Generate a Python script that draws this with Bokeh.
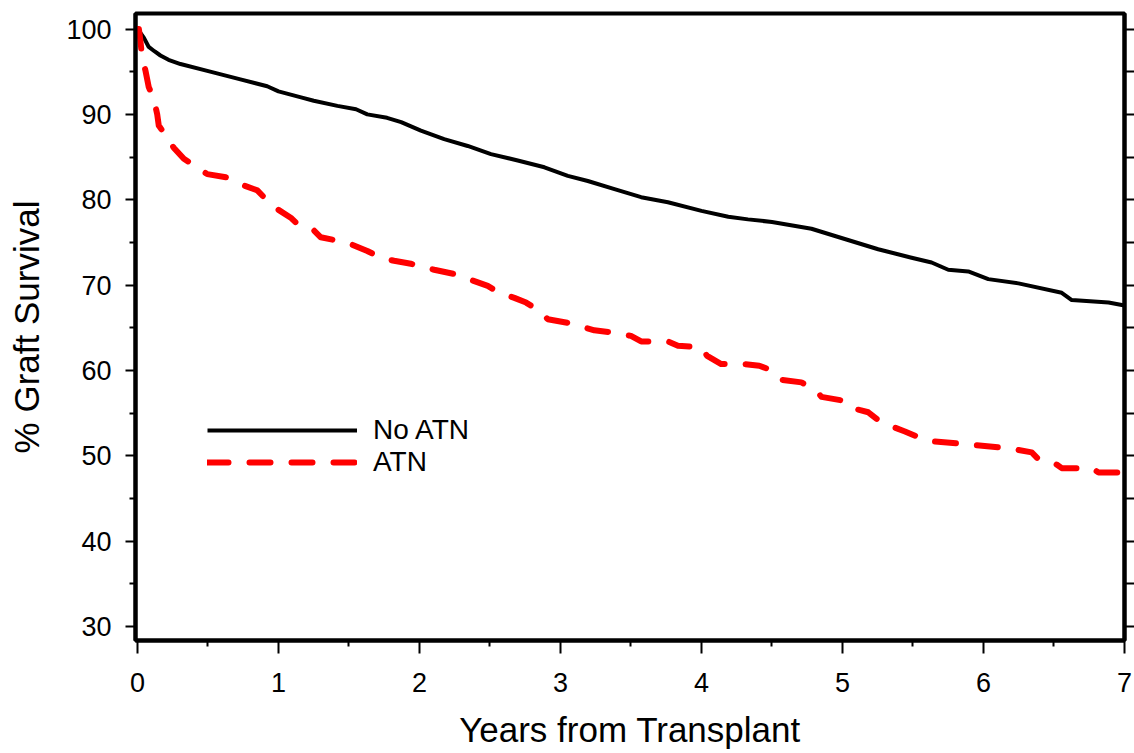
from bokeh.plotting import figure
from bokeh.models import (Range1d, LinearAxis, FixedTicker, Legend, LegendItem)
from bokeh.embed import file_html
from bokeh.resources import INLINE

# ---- data ----
years_no_atn = [0, 0.01, 0.045, 0.08, 0.12, 0.163, 0.22, 0.305, 0.495, 0.73, 0.92, 1.0,
                1.16, 1.25, 1.418, 1.55, 1.63, 1.77, 1.87, 2.01, 2.175, 2.342, 2.507,
                2.697, 2.886, 3.052, 3.194, 3.383, 3.572, 3.762, 4.0, 4.19, 4.33, 4.5,
                4.78, 5.016, 5.253, 5.49, 5.632, 5.75, 5.892, 6.034, 6.248, 6.555,
                6.626, 6.887, 7.0]
surv_no_atn = [100, 99.8, 99.0, 97.9, 97.4, 96.9, 96.4, 95.9, 95.1, 94.1, 93.3, 92.7,
               92.0, 91.6, 91.0, 90.6, 90.0, 89.6, 89.1, 88.1, 87.1, 86.3, 85.35,
               84.6, 83.8, 82.8, 82.2, 81.25, 80.3, 79.7, 78.7, 78.0, 77.7, 77.4,
               76.6, 75.4, 74.2, 73.2, 72.65, 71.8, 71.6, 70.7, 70.2, 69.1,
               68.25, 67.95, 67.6]

years_atn = [0, 0.01, 0.021, 0.033, 0.057, 0.08, 0.116, 0.14, 0.151, 0.21, 0.257, 0.329,
             0.424, 0.495, 0.637, 0.731, 0.85, 0.92, 0.992, 1.087, 1.134, 1.252, 1.3,
             1.418, 1.513, 1.63, 1.726, 1.82, 1.939, 2.104, 2.246, 2.365, 2.484, 2.566,
             2.673, 2.756, 2.85, 2.91, 3.075, 3.24, 3.37, 3.5, 3.572, 3.762, 3.833, 4.0,
             4.04, 4.14, 4.306, 4.41, 4.508, 4.567, 4.709, 4.815, 4.851, 4.993, 5.052,
             5.183, 5.253, 5.371, 5.443, 5.537, 5.608, 5.845, 6.177, 6.342, 6.39, 6.508,
             6.555, 6.768, 6.816, 7.0]
surv_atn = [100, 100, 98.6, 96.7, 95.1, 93.2, 91.8, 90.0, 88.7, 87.3, 86.1, 84.8,
            83.8, 83.0, 82.6, 81.8, 81.1, 79.9, 78.9, 77.9, 77.15, 76.4, 75.6,
            75.2, 74.8, 74.0, 73.2, 72.85, 72.5, 71.8, 71.3, 70.6, 69.9, 69.1,
            68.5, 67.95, 67.0, 66.0, 65.5, 64.7, 64.45, 64.05, 63.4, 63.4, 62.9, 62.7,
            61.7, 60.75, 60.75, 60.55, 59.95, 58.9, 58.6, 57.6, 56.9, 56.5, 55.65,
            55.1, 54.2, 53.3, 52.85, 52.2, 51.75, 51.4, 50.9, 50.4, 49.6, 49.1,
            48.55, 48.55, 48.05, 48.05]

x_ticks = [0, 1, 2, 3, 4, 5, 6, 7]
x_minor = [0.5, 1.5, 2.5, 3.5, 4.5, 5.5, 6.5]
y_ticks = [30, 40, 50, 60, 70, 80, 90, 100]
y_minor = [35, 45, 55, 65, 75, 85, 95]
label_no_atn = "No ATN"
label_atn = "ATN"
x_title = "Years from Transplant"
y_title = "% Graft Survival"

FONT = "Liberation Sans"

p = figure(width=1134, height=753, output_backend="svg", toolbar_location=None,
           x_range=Range1d(-0.014, 7.0), y_range=Range1d(28.36, 101.82),
           min_border_left=135, min_border_right=10, min_border_top=13,
           min_border_bottom=113, x_axis_location="below", y_axis_location="left")

p.grid.visible = False
p.background_fill_color = "white"
p.border_fill_color = "white"
p.outline_line_color = "black"
p.outline_line_width = 4

xa = p.xaxis[0]
xa.ticker = FixedTicker(ticks=x_ticks, minor_ticks=x_minor)
ya = p.yaxis[0]
ya.ticker = FixedTicker(ticks=y_ticks, minor_ticks=y_minor)

for ax in (xa, ya):
    ax.axis_line_width = 4
    ax.axis_line_color = "black"
    ax.major_tick_line_width = 2
    ax.minor_tick_line_width = 2
    ax.major_tick_in = 0
    ax.minor_tick_in = 0
    ax.major_label_text_font = FONT
    ax.major_label_text_font_size = "27px"
    ax.major_label_text_color = "black"
    ax.axis_label_text_font = FONT
    ax.axis_label_text_font_size = "35px"
    ax.axis_label_text_font_style = "normal"
    ax.axis_label_text_color = "black"

xa.major_tick_out = 13
xa.minor_tick_out = 6
xa.major_label_standoff = 19
xa.axis_label = x_title
xa.axis_label_standoff = 15

ya.major_tick_out = 10
ya.minor_tick_out = 6
ya.major_label_standoff = 14
ya.axis_label = y_title
ya.axis_label_standoff = 17

# right axis: ticks only (all drawn as minor ticks, so no labels)
ra = LinearAxis(ticker=FixedTicker(ticks=[], minor_ticks=sorted(y_ticks + y_minor)),
                axis_line_width=4, minor_tick_line_width=2,
                minor_tick_in=0, minor_tick_out=10, major_label_standoff=0)
p.add_layout(ra, "right")

r1 = p.line(years_no_atn, surv_no_atn, line_color="black", line_width=4,
            line_join="round")
r2 = p.line(years_atn, surv_atn, line_color="#ff0000", line_width=6,
            line_dash="21 21", line_cap="round", line_join="round")

legend_style = dict(glyph_width=150, glyph_height=28, label_height=28,
                    label_standoff=16, spacing=0, padding=0, margin=0,
                    label_text_font=FONT, label_text_font_size="28px",
                    label_text_color="black", border_line_color=None,
                    background_fill_alpha=0)
legend1 = Legend(items=[LegendItem(label=label_no_atn, renderers=[r1])],
                 location=(72, 194), **legend_style)
legend2 = Legend(items=[LegendItem(label=label_atn, renderers=[r2])],
                 location=(72, 162), **legend_style)
p.add_layout(legend1, "center")
p.add_layout(legend2, "center")

open("out.html", "w").write(file_html(p, INLINE))
